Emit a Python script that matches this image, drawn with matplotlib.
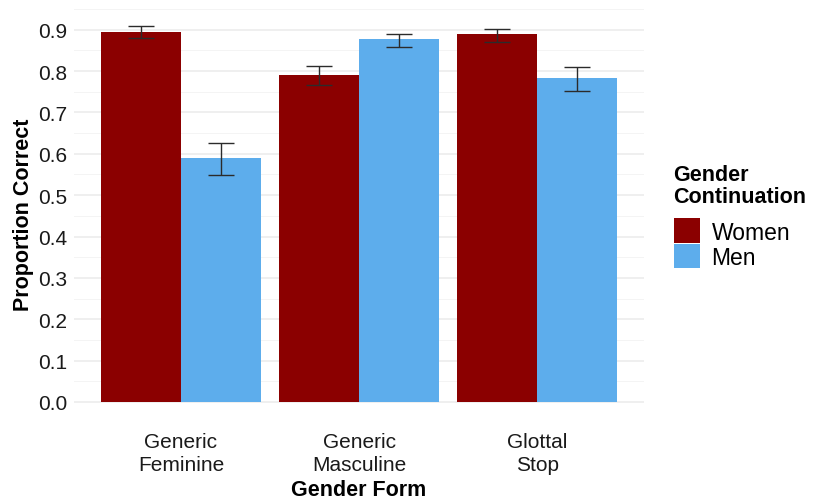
import numpy as np
import matplotlib.pyplot as plt
from matplotlib.patches import Patch

plt.rcParams['font.family'] = ['Liberation Sans', 'DejaVu Sans']

# data
forms = ['Generic\nFeminine', 'Generic\nMasculine', 'Glottal\nStop']
groups = ['Women', 'Men']
women = [0.895, 0.790, 0.889]
men = [0.589, 0.877, 0.782]
women_lo = [0.879, 0.767, 0.870]
women_hi = [0.910, 0.813, 0.902]
men_lo = [0.549, 0.859, 0.752]
men_hi = [0.626, 0.890, 0.810]
colors = ['#8B0000', '#5DADEC']

fig = plt.figure(figsize=(8.14, 5.02), dpi=100)
# panel placement (pixels): x 74..644, y 7.7..421.8
ax = fig.add_axes([74/814, 1 - 421.8/502, (644 - 74)/814, (421.8 - 7.7)/502])

x = np.arange(1, len(forms) + 1)
w = 0.45
vals = [women, men]
los = [women_lo, men_lo]
his = [women_hi, men_hi]
for i, g in enumerate(groups):
    xs = x + (i - 0.5) * w
    ax.bar(xs, vals[i], width=w, color=colors[i], zorder=2)
    v = np.array(vals[i])
    err = [v - np.array(los[i]), np.array(his[i]) - v]
    ax.errorbar(xs, v, yerr=err, fmt='none', ecolor='#2B2B2B',
                elinewidth=1.0, capsize=9.3, capthick=1.0, zorder=3)

ax.set_xlim(0.4, 3.6)
ax.set_ylim(-0.0455, 0.9555)
ax.set_yticks(np.arange(0, 0.91, 0.1))
ax.set_yticks(np.arange(0.05, 0.96, 0.1), minor=True)
ax.set_yticklabels(['%.1f' % t for t in np.arange(0, 0.91, 0.1)])
ax.set_xticks(x)
ax.set_xticklabels(forms, linespacing=1.3)
ax.grid(axis='y', which='major', color='#EBEBEB', linewidth=1.1, zorder=0)
ax.grid(axis='y', which='minor', color='#F2F2F2', linewidth=0.6, zorder=0)
ax.tick_params(which='both', length=0, labelsize=15, colors='#1A1A1A')
ax.tick_params(axis='y', pad=5)
ax.tick_params(axis='x', pad=8)
for s in ax.spines.values():
    s.set_visible(False)

ax.set_ylabel('Proportion Correct', fontsize=15.5, fontweight='bold', labelpad=3)
ax.set_xlabel('Gender Form', fontsize=15.5, fontweight='bold', labelpad=3)

handles = [Patch(facecolor=c, edgecolor='none') for c in colors]
leg = fig.legend(handles, groups, title='Gender\nContinuation',
                 loc='upper left', bbox_to_anchor=(653/814, 1 - 144/502),
                 frameon=False, fontsize=16.5, title_fontsize=15.5,
                 handlelength=1.15, handleheight=1.3, handletextpad=0.5,
                 labelspacing=0.0, alignment='left')
leg.get_title().set_fontweight('bold')
leg.get_title().set_linespacing(1.1)
leg._legend_box.sep = 8

fig.savefig('out.png', dpi=100)
